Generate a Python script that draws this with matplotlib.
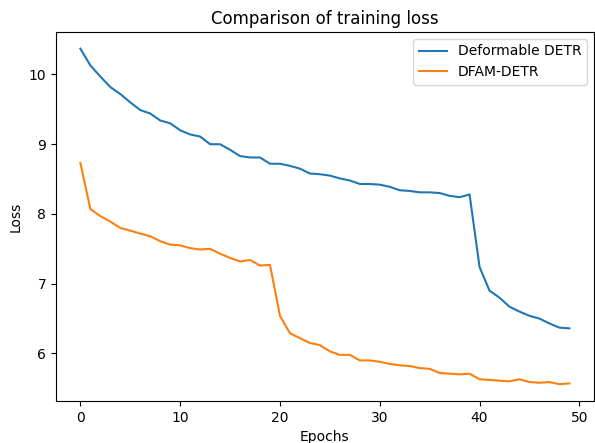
import matplotlib
matplotlib.use("Agg")
import matplotlib.pyplot as plt

epochs = list(range(50))

deformable_detr = [
    10.37, 10.13, 9.97, 9.82, 9.72, 9.60, 9.49, 9.44, 9.34, 9.30,
    9.20, 9.14, 9.11, 9.00, 9.00, 8.92, 8.83, 8.81, 8.81, 8.72,
    8.72, 8.69, 8.65, 8.58, 8.57, 8.55, 8.51, 8.48, 8.43, 8.43,
    8.42, 8.39, 8.34, 8.33, 8.31, 8.31, 8.30, 8.26, 8.24, 8.28,
    7.24, 6.90, 6.80, 6.67, 6.60, 6.54, 6.50, 6.43, 6.37, 6.36,
]

dfam_detr = [
    8.73, 8.07, 7.97, 7.89, 7.80, 7.76, 7.72, 7.68, 7.61, 7.56,
    7.55, 7.51, 7.49, 7.50, 7.43, 7.37, 7.32, 7.34, 7.26, 7.27,
    6.54, 6.29, 6.22, 6.15, 6.12, 6.03, 5.98, 5.98, 5.90, 5.90,
    5.88, 5.85, 5.83, 5.82, 5.79, 5.78, 5.72, 5.71, 5.70, 5.71,
    5.63, 5.62, 5.61, 5.60, 5.63, 5.59, 5.58, 5.59, 5.56, 5.57,
]

fig = plt.figure(figsize=(5.95, 4.43), dpi=100)
ax = fig.add_axes([0.094, 0.095, 0.904, 0.833])

ax.plot(epochs, deformable_detr, label='Deformable DETR')
ax.plot(epochs, dfam_detr, label='DFAM-DETR')

ax.set_title('Comparison of training loss')
ax.set_xlabel('Epochs')
ax.set_ylabel('Loss')
ax.legend(loc='upper right')

fig.savefig('out.png', dpi=100)
